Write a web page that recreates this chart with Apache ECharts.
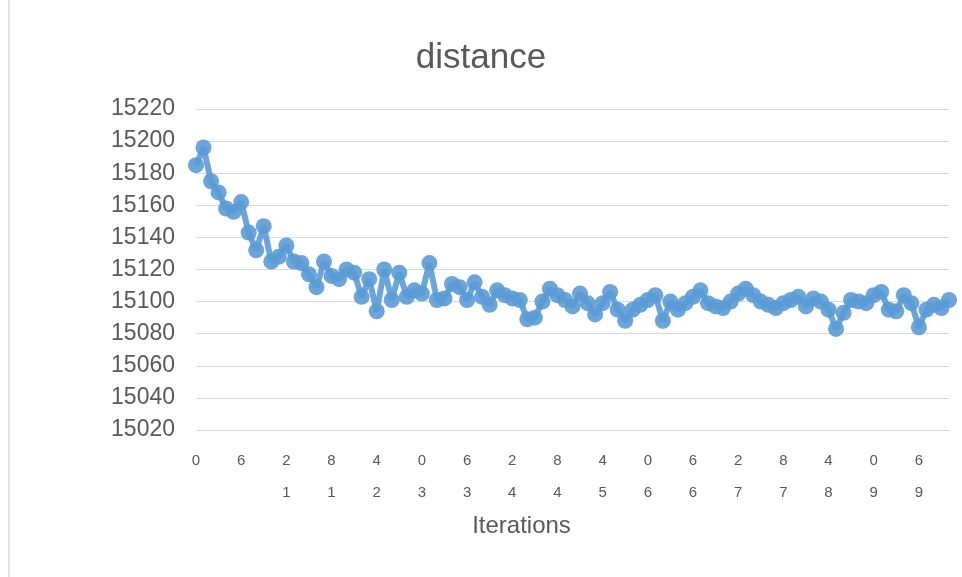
<!DOCTYPE html>
<html>
<head>
<meta charset="utf-8">
<style>
  html, body { margin: 0; padding: 0; background: #ffffff; }
  #chart { width: 962px; height: 577px; }
</style>
<script src="https://cdn.jsdelivr.net/npm/echarts@6/dist/echarts.min.js"></script>
</head>
<body>
<div id="chart"></div>
<script>
// Iteration numbers along the horizontal axis
const iterations = Array.from({ length: 101 }, (_, i) => String(i));

// Total distance reached at each iteration
const distance = [
  15185, 15196, 15175, 15168, 15158, 15156, 15162, 15143, 15132, 15147,
  15125, 15128, 15135, 15125, 15124, 15117, 15109, 15125, 15116, 15114,
  15120, 15118, 15103, 15114, 15094, 15120, 15101, 15118, 15103, 15107,
  15105, 15124, 15101, 15102, 15111, 15109, 15101, 15112, 15103, 15098,
  15107, 15104, 15102, 15101, 15089, 15090, 15100, 15108, 15104, 15101,
  15097, 15105, 15099, 15092, 15099, 15106, 15095, 15088, 15095, 15098,
  15101, 15104, 15088, 15100, 15095, 15099, 15103, 15107, 15099, 15097,
  15096, 15100, 15105, 15108, 15104, 15100, 15098, 15096, 15099, 15101,
  15103, 15097, 15102, 15100, 15095, 15083, 15093, 15101, 15100, 15099,
  15104, 15106, 15095, 15094, 15104, 15099, 15084, 15095, 15098, 15096,
  15101
];

// Value axis range and step
const yMin = 15020;
const yMax = 15220;
const yStep = 20;

const chartTitle = 'distance';
const xAxisTitle = 'Iterations';

const textGray = '#595959';
const lineGray = '#d9d9d9';
const seriesBlue = '#5B9BD5';
const fontFamily = '"Liberation Sans", Arial, sans-serif';

// Category labels are written vertically, so the digits read bottom-to-top
function stackedDigits(label) {
  return label.split('').reverse().join('\n');
}

const chart = echarts.init(document.getElementById('chart'), null, { renderer: 'canvas' });

chart.setOption({
  animation: false,
  backgroundColor: '#ffffff',
  textStyle: { fontFamily: fontFamily },
  title: {
    text: chartTitle,
    left: 'center',
    top: 36,
    textStyle: { color: textGray, fontSize: 35, fontWeight: 'normal', fontFamily: fontFamily }
  },
  graphic: [
    {
      type: 'line',
      shape: { x1: 9, y1: 0, x2: 9, y2: 577 },
      style: { stroke: lineGray, lineWidth: 1.5 },
      silent: true
    }
  ],
  grid: { left: 196, right: 13, top: 109, bottom: 147, containLabel: false },
  xAxis: {
    type: 'category',
    data: iterations,
    boundaryGap: false,
    name: xAxisTitle,
    nameLocation: 'middle',
    nameGap: 79,
    nameTextStyle: { color: textGray, fontSize: 24, fontFamily: fontFamily, padding: [0, 102, 0, 0] },
    axisLine: { show: true, lineStyle: { color: lineGray, width: 1 } },
    axisTick: { show: false },
    axisLabel: {
      interval: 5,
      margin: 15,
      color: textGray,
      fontSize: 15,
      lineHeight: 32,
      fontFamily: fontFamily,
      formatter: stackedDigits
    },
    splitLine: { show: false }
  },
  yAxis: {
    type: 'value',
    min: yMin,
    max: yMax,
    interval: yStep,
    axisLine: { show: false },
    axisTick: { show: false },
    axisLabel: {
      color: textGray,
      fontSize: 23,
      margin: 21,
      fontFamily: fontFamily,
      padding: [0, 0, 12, 0],
      formatter: (v) => String(v)
    },
    splitLine: { show: true, lineStyle: { color: lineGray, width: 1 } }
  },
  series: [
    {
      name: chartTitle,
      type: 'line',
      data: distance,
      symbol: 'circle',
      symbolSize: 16,
      showSymbol: true,
      showAllSymbol: true,
      lineStyle: { color: seriesBlue, width: 6, opacity: 0.9 },
      itemStyle: { color: seriesBlue, opacity: 0.9 },
      emphasis: { disabled: true }
    }
  ]
});
</script>
</body>
</html>
